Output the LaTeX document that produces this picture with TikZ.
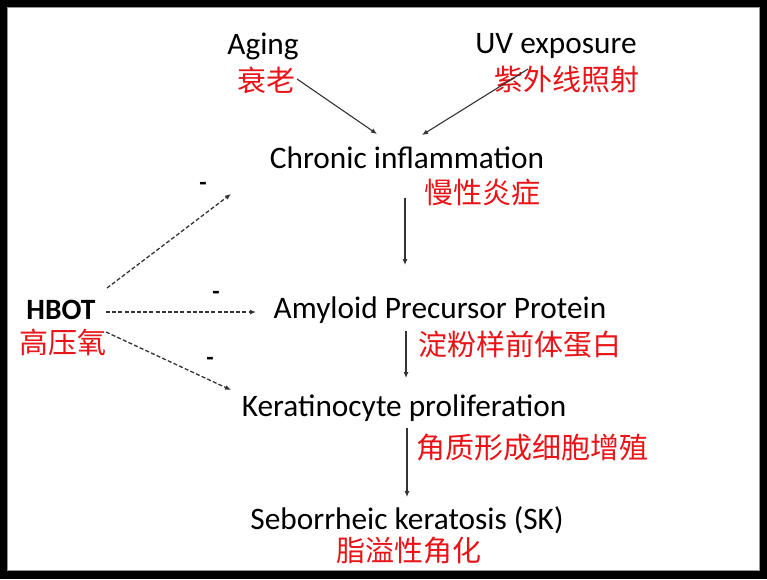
\documentclass[tikz,border=0pt]{standalone}
\usepackage{fontspec}
\setmainfont{Carlito}
\newfontfamily\cjk{Noto Sans CJK SC}
\usetikzlibrary{arrows.meta}
\definecolor{cnred}{RGB}{232,20,24}
\definecolor{framegray}{RGB}{150,150,150}
\begin{document}
\begin{tikzpicture}[x=1pt,y=-1pt,
  en/.style={inner sep=0pt,font=\fontsize{31.3}{33}\selectfont,text=black},
  cn/.style={inner sep=0pt,font=\cjk\fontsize{29}{31}\selectfont,text=cnred},
  minus/.style={inner sep=0pt,font=\bfseries\fontsize{24}{26}\selectfont},
  arr/.style={line width=1.1pt,draw=black!80,-{Latex[length=6pt,width=5pt]}},
  darr/.style={line width=1.3pt,draw=black!80,dash pattern=on 4pt off 2.2pt,-{Latex[length=6pt,width=5pt]}}]
\useasboundingbox (0,0) rectangle (767,579);
\fill[black] (0,0) rectangle (767,579);
\fill[white] (7,7) rectangle (760,571);
\draw[framegray,line width=0.8pt] (7.5,7.5) rectangle (759.5,570.5);

% texts
\node[en] (aging) at (263,46) {Aging};
\node[cn] (agingcn) at (266,80) {衰老};
\node[en] (uv) at (556,46) {UV exposure};
\node[cn] (uvcn) at (567,80) {紫外线照射};
\node[en] (chronic) at (407,158) {Chronic inflammation};
\node[cn] (chroniccn) at (482,192) {慢性炎症};
\node[en] (app) at (440,310) {Amyloid Precursor Protein};
\node[cn] (appcn) at (520,345) {淀粉样前体蛋白};
\node[en] (kera) at (404,408) {Keratinocyte proliferation};
\node[cn] (keracn) at (532,448) {角质形成细胞增殖};
\node[en] (sk) at (407,520) {Seborrheic keratosis (SK)};
\node[cn] (skcn) at (409,551) {脂溢性角化};
\node[en,font=\bfseries\fontsize{29.5}{31}\selectfont] (hbot) at (61,310) {HBOT};
\node[cn] (hbotcn) at (63,342) {高压氧};
\node[minus] (m1) at (203,186) {-};
\node[minus] (m2) at (216,295) {-};
\node[minus] (m3) at (210,361) {-};

% arrow end points
\coordinate (agS) at (297,79);
\coordinate (agE) at (377,134);
\coordinate (uvS) at (528,69);
\coordinate (uvE) at (422,135);
\coordinate (c1S) at (405,198);
\coordinate (c1E) at (405,265);
\coordinate (c2S) at (406,331);
\coordinate (c2E) at (406,378);
\coordinate (c3S) at (407,428);
\coordinate (c3E) at (407,497);
\coordinate (h1S) at (107,288);
\coordinate (h1E) at (231,194);
\coordinate (h2S) at (106,312);
\coordinate (h2E) at (256,312);
\coordinate (h3S) at (106,332);
\coordinate (h3E) at (231,390);

\draw[arr] (agS) -- (agE);
\draw[arr] (uvS) -- (uvE);
\draw[arr] (c1S) -- (c1E);
\draw[arr] (c2S) -- (c2E);
\draw[arr] (c3S) -- (c3E);
\draw[darr] (h1S) -- (h1E);
\draw[darr] (h2S) -- (h2E);
\draw[darr] (h3S) -- (h3E);
\end{tikzpicture}
\end{document}
